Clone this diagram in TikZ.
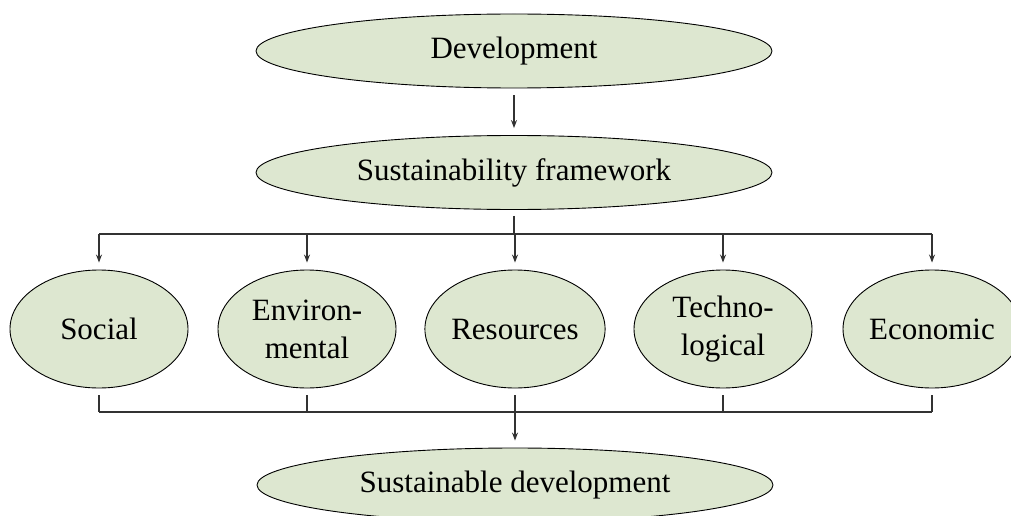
\documentclass[tikz,border=0pt]{standalone}
\usepackage{fontspec}
\setmainfont{Liberation Serif}
\usetikzlibrary{shapes.geometric,arrows.meta,calc}
\definecolor{ellfill}{RGB}{221,231,208}
\definecolor{linecol}{RGB}{50,50,50}
\tikzset{
  big/.style={ellipse,draw=black,line width=0.9pt,fill=ellfill,minimum width=516pt,minimum height=74pt,inner sep=0pt,font=\fontsize{31}{37}\selectfont},
  mid/.style={ellipse,draw=black,line width=0.9pt,fill=ellfill,minimum width=178pt,minimum height=118pt,inner sep=0pt,align=center,font=\fontsize{31}{38}\selectfont},
  conn/.style={draw=linecol,line width=1.1pt},
  arr/.style={conn,-{Stealth[length=8pt,width=6pt]}}
}
\begin{document}
\begin{tikzpicture}[x=1pt,y=-1pt]
\clip (0,0) rectangle (1011,516);
\fill[white] (0,0) rectangle (1011,516);
\node[big] (dev) at (514,51) {Development};
\node[big] (sf) at (514,172.5) {Sustainability framework};
\node[mid] (soc) at (99,329) {Social};
\node[mid] (env) at (307,329) {Environ-\\mental};
\node[mid] (res) at (515,329) {Resources};
\node[mid] (tec) at (723,329) {Techno-\\logical};
\node[mid] (eco) at (932,329) {Economic};
\node[big] (sd) at (515,485) {Sustainable development};
\coordinate (bt) at (514,234);
\coordinate (bb) at (515,412);
% top
\draw[arr] ([yshift=-7pt]dev.south) -- ([yshift=7pt]sf.north);
\draw[conn] ([yshift=-6pt]sf.south) -- (bt);
\draw[conn] (bt -| soc) -- (bt -| eco);
\foreach \n in {soc,env,res,tec,eco}{
  \draw[arr] (bt -| \n) -- ([yshift=7pt]\n.north);
  \draw[conn] ([yshift=-7pt]\n.south) -- (bb -| \n);
}
\draw[conn] (bb -| soc) -- (bb -| eco);
\draw[arr] (bb) -- ([yshift=7pt]sd.north);
\end{tikzpicture}
\end{document}
